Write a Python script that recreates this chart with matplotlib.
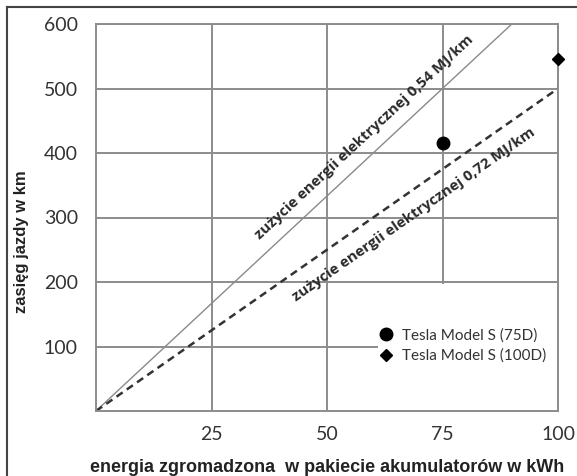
import numpy as np
import matplotlib
matplotlib.use("Agg")
import matplotlib.pyplot as plt
from matplotlib.lines import Line2D
from matplotlib.patches import Rectangle

# data
consumption_mj_km = [0.54, 0.72]
x_ticks = [25, 50, 75, 100]
y_ticks = [100, 200, 300, 400, 500, 600]
tesla_names = ["Tesla Model S (75D)", "Tesla Model S (100D)"]
tesla_kwh = [75, 100]
tesla_range_km = [415, 545]

GRID = "#8c8c8c"
TXT = "#333333"

fig = plt.figure(figsize=(5.77, 4.76), dpi=100)
ax = fig.add_axes([96 / 577, 1 - 411 / 476, 462 / 577, 387 / 476])
ax.set_xlim(0, 100)
ax.set_ylim(0, 600)

ax.set_xticks(x_ticks)
ax.set_yticks(y_ticks)
ax.grid(True, color=GRID, lw=1.4)
ax.set_axisbelow(True)
for s in ax.spines.values():
    s.set_color(GRID)
    s.set_linewidth(1.4)
    s.set_zorder(3)
ax.tick_params(length=0, labelsize=14, labelcolor=TXT)
ax.tick_params(axis="x", pad=11)
ax.tick_params(axis="y", pad=13)
for lab in ax.get_xticklabels() + ax.get_yticklabels():
    lab.set_fontfamily("Lato")

# white area behind the legend
ax.add_patch(Rectangle((61, 0), 39, 197, facecolor="white", edgecolor="none", zorder=1))

# consumption lines: range = kWh * 3.6 / (MJ/km)
styles = [dict(color="#8a8a8a", lw=1.0, ls="-"),
          dict(color="#333333", lw=1.8, ls=(0, (3, 2)))]
for c, st in zip(consumption_mj_km, styles):
    k = 3.6 / c
    xe = min(100, 600 / k)
    ax.plot([0, xe], [0, k * xe], zorder=2, **st)

# labels along the lines
label_pos = [(58.0, 424), (68.8, 305)]
for c, (tx, ty) in zip(consumption_mj_km, label_pos):
    k = 3.6 / c
    ang = np.degrees(np.arctan(k))
    ax.text(tx, ty, "zużycie energii elektrycznej %s MJ/km" % str(c).replace(".", ","),
            rotation=ang, transform_rotates_text=True, rotation_mode="anchor",
            ha="center", va="center", fontsize=10.8, fontweight="bold",
            family="Open Sans", color="#2a2a2a", zorder=4)

# tesla points
ax.plot(tesla_kwh[0], tesla_range_km[0], "o", color="black", ms=9, zorder=5,
        label=tesla_names[0], clip_on=False)
ax.plot(tesla_kwh[1], tesla_range_km[1], "D", color="black", ms=6.5, zorder=5,
        label=tesla_names[1], clip_on=False)

leg = ax.legend(loc="center left", bbox_to_anchor=(0.615, 0.169), frameon=False,
                borderpad=0, borderaxespad=0, handlelength=0.8, handletextpad=0.6,
                labelspacing=0.4, prop={"family": "Lato", "size": 11})
for t in leg.get_texts():
    t.set_color(TXT)
leg.set_zorder(6)

ax.set_xlabel("energia zgromadzona  w pakiecie akumulatorów w kWh",
              family="Liberation Sans", fontweight="bold", fontsize=13, color="#222222",
              va="center")
ax.xaxis.set_label_coords(0.5, -0.145)
ax.set_ylabel("zasięg jazdy w km", family="Liberation Sans", fontweight="bold",
              fontsize=12, color="#222222", va="center")
ax.yaxis.set_label_coords(-0.162, 0.437)

# outer frame (left and top)
fig.add_artist(Line2D([7 / 577, 7 / 577], [0, 1 - 7 / 476], transform=fig.transFigure,
                      color="#444444", lw=1.5))
fig.add_artist(Line2D([7 / 577, 1], [1 - 7 / 476, 1 - 7 / 476], transform=fig.transFigure,
                      color="#444444", lw=1.5))

fig.savefig("out.png", dpi=100)
